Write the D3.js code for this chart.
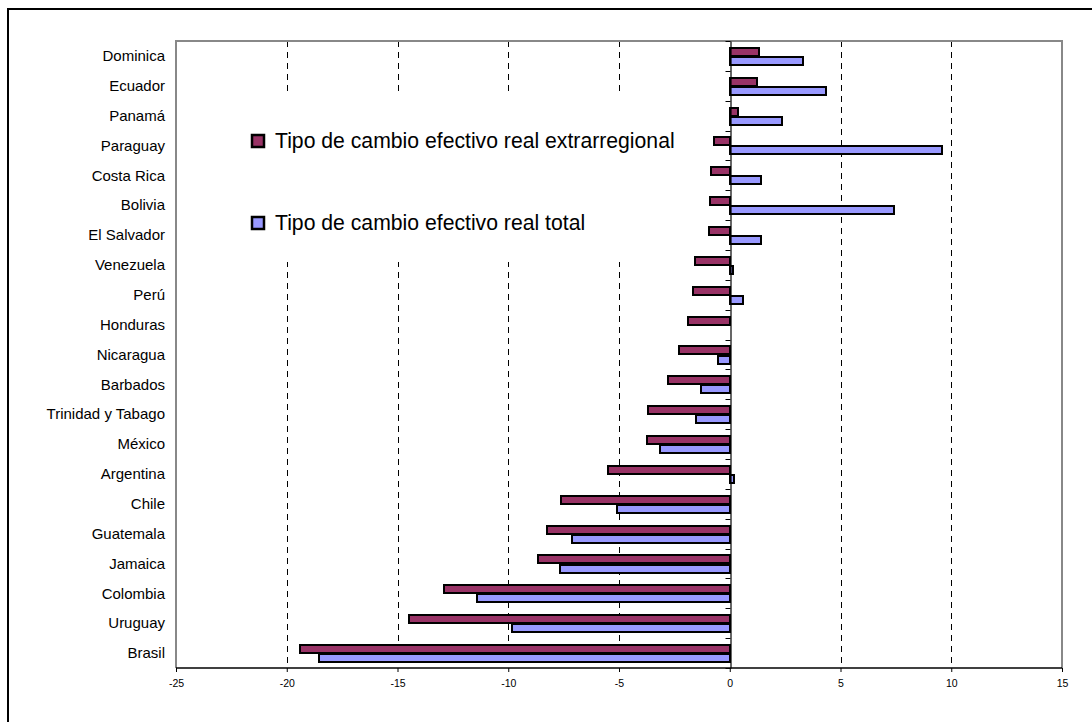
<!DOCTYPE html>
<html>
<head>
<meta charset="utf-8">
<script src="https://cdn.jsdelivr.net/npm/d3@7"></script>
<style>
  html, body { margin: 0; padding: 0; background: #fff; overflow: hidden; }
  svg { display: block; font-family: "Liberation Sans", Arial, sans-serif; }
</style>
</head>
<body>
<svg id="chart" width="1092" height="722"></svg>
<script>
// Countries, listed top to bottom
const categories = [
  "Dominica", "Ecuador", "Panamá", "Paraguay", "Costa Rica", "Bolivia",
  "El Salvador", "Venezuela", "Perú", "Honduras", "Nicaragua", "Barbados",
  "Trinidad y Tabago", "México", "Argentina", "Chile", "Guatemala",
  "Jamaica", "Colombia", "Uruguay", "Brasil"
];

// Extra-regional real effective exchange rate (% change)
const extrarregional = [
  1.34, 1.22, 0.35, -0.69, -0.83, -0.87,
  -0.95, -1.55, -1.64, -1.9, -2.29, -2.8,
  -3.67, -3.73, -5.49, -7.6, -8.25,
  -8.67, -12.91, -14.5, -19.4
];

// Total real effective exchange rate (% change)
const total = [
  3.31, 4.33, 2.36, 9.59, 1.43, 7.42,
  1.41, 0.14, 0.59, 0, -0.54, -1.29,
  -1.53, -3.13, 0.2, -5.11, -7.11,
  -7.65, -11.39, -9.83, -18.53
];

const xTicks = [-25, -20, -15, -10, -5, 0, 5, 10, 15];

const seriesNames = [
  "Tipo de cambio efectivo real extrarregional",
  "Tipo de cambio efectivo real total"
];
const seriesColors = ["#993366", "#9999FF"];
const seriesValues = [extrarregional, total];

const svg = d3.select("#chart");

// Outer chart frame (left and top edges inside the page)
svg.append("path")
  .attr("d", "M8,730 L8,9 L1100,9")
  .attr("fill", "none")
  .attr("stroke", "#000")
  .attr("stroke-width", 2);

const plot = { left: 176, right: 1062, top: 41, bottom: 668 };

const x = d3.scaleLinear().domain([-25, 15]).range([plot.left, plot.right]);
const y = d3.scaleBand().domain(categories).range([plot.top, plot.bottom]).paddingInner(0).paddingOuter(0);
const ySeries = d3.scaleBand().domain([0, 1]).range([0, y.bandwidth()]).paddingInner(0).paddingOuter(0.65);

// Dashed vertical gridlines
svg.append("g")
  .selectAll("line")
  .data(xTicks.filter(t => t !== -25 && t !== 0 && t !== 15))
  .join("line")
  .attr("x1", d => Math.round(x(d)) + 0.5).attr("x2", d => Math.round(x(d)) + 0.5)
  .attr("y1", plot.top).attr("y2", plot.bottom)
  .attr("stroke", "#000")
  .attr("stroke-width", 1)
  .attr("stroke-dasharray", "6,5");

// Legend background hides the gridlines behind it
svg.append("rect")
  .attr("x", 240).attr("y", 96)
  .attr("width", 462).attr("height", 166)
  .attr("fill", "#fff");

// Bars
const x0 = Math.round(x(0));
const groups = svg.append("g");
seriesValues.forEach((vals, s) => {
  groups.append("g")
    .selectAll("rect")
    .data(categories.map((c, i) => ({ c, v: vals[i] })).filter(d => d.v !== 0))
    .join("rect")
    .attr("x", d => Math.min(Math.round(x(d.v)), x0))
    .attr("y", d => Math.round(y(d.c) + ySeries(s)) + 1)
    .attr("width", d => Math.abs(Math.round(x(d.v)) - x0))
    .attr("height", Math.round(ySeries.bandwidth()) - 1)
    .attr("fill", seriesColors[s])
    .attr("stroke", "#000")
    .attr("stroke-width", 2);
});

// Plot area border
svg.append("path")
  .attr("d", `M${plot.left},${plot.bottom} L${plot.left},${plot.top} L${plot.right},${plot.top} L${plot.right},${plot.bottom}`)
  .attr("fill", "none")
  .attr("stroke", "#888")
  .attr("stroke-width", 2);

// Category axis on the zero line
const yAxis = d3.axisLeft(y).tickSize(0).tickFormat("");
const yAxisG = svg.append("g")
  .attr("transform", `translate(${x0 + 0.5},0)`)
  .call(yAxis);
yAxisG.select(".domain").attr("stroke", "#000").attr("stroke-width", 1.2);
// band-boundary tick marks
yAxisG.append("g")
  .selectAll("line")
  .data(d3.range(categories.length + 1))
  .join("line")
  .attr("x1", -5).attr("x2", 0)
  .attr("y1", i => Math.round(plot.top + i * y.step()) + 0.5)
  .attr("y2", i => Math.round(plot.top + i * y.step()) + 0.5)
  .attr("stroke", "#000");

// Category labels at the left
svg.append("g")
  .selectAll("text")
  .data(categories)
  .join("text")
  .attr("x", 165)
  .attr("y", d => y(d) + y.bandwidth() / 2)
  .attr("dy", "0.35em")
  .attr("text-anchor", "end")
  .attr("font-size", 15)
  .attr("fill", "#000")
  .text(d => d);

// Value axis at the bottom
const xAxis = d3.axisBottom(x).tickValues(xTicks).tickSize(4).tickPadding(8).tickFormat(d3.format("d"));
const xAxisG = svg.append("g")
  .attr("transform", `translate(0,${plot.bottom})`)
  .call(xAxis);
xAxisG.select(".domain").attr("stroke", "#000").attr("stroke-width", 1.5).attr("d", `M${plot.left},0H${plot.right}`);
xAxisG.selectAll(".tick line").attr("stroke", "#000");
xAxisG.selectAll(".tick text")
  .attr("font-size", 10.5)
  .attr("font-family", "Liberation Sans, Arial, sans-serif")
  .attr("fill", "#000")
  .text(d => d < 0 ? "-" + Math.abs(d) : d);

// Legend
const legend = svg.append("g");
const legendY = [141, 223];
seriesNames.forEach((name, i) => {
  legend.append("rect")
    .attr("x", 252).attr("y", legendY[i] - 6)
    .attr("width", 12).attr("height", 12)
    .attr("fill", seriesColors[i])
    .attr("stroke", "#000")
    .attr("stroke-width", 2.5);
  legend.append("text")
    .attr("x", 275).attr("y", legendY[i])
    .attr("dy", "0.35em")
    .attr("font-size", 21.2)
    .attr("fill", "#000")
    .text(name);
});
</script>
</body>
</html>
